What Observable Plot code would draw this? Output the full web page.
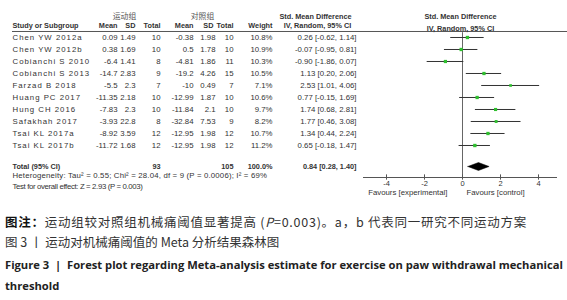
<!DOCTYPE html>
<html><head><meta charset="utf-8">
<script src="https://cdn.jsdelivr.net/npm/d3@7"></script>
<script src="https://cdn.jsdelivr.net/npm/@observablehq/plot@0.6"></script>
<style>
body{margin:0;background:#fff;width:567px;height:300px;overflow:hidden;position:relative;font-family:"Liberation Sans",Arial,sans-serif}
#chart svg{display:block}
.cap{position:absolute;left:5px;white-space:nowrap;font-family:"Noto Sans CJK SC","Noto Sans",sans-serif;color:#333}
</style></head><body>
<div id="chart"></div>
<div class="cap" id="c1" style="top:212px;font-size:12.5px;line-height:20px;letter-spacing:0.75px"><b style="color:#111">图注：</b>运动组较对照组机械痛阈值显著提高 (<i>P</i>=0.003)。a，b 代表同一研究不同运动方案</div>
<div class="cap" id="c2" style="top:232px;font-size:12.5px;line-height:20px">图 3 丨 运动对机械痛阈值的 Meta 分析结果森林图</div>
<div class="cap" id="c3" style="top:255px;font-size:11.2px;line-height:20px;font-weight:bold;color:#222;font-family:'Open Sans',sans-serif">Figure 3 &nbsp;|&nbsp; Forest plot regarding Meta-analysis estimate for exercise on paw withdrawal mechanical</div>
<div class="cap" id="c4" style="top:276px;font-size:11.2px;line-height:20px;font-weight:bold;color:#222;font-family:'Open Sans',sans-serif">threshold</div>
<script>
const studies = ["Chen YW 2012a","Chen YW 2012b","Cobianchi S 2010","Cobianchi S 2013","Farzad B 2018","Huang PC 2017","Hung CH 2016","Safakhah 2017","Tsai KL 2017a","Tsai KL 2017b"];
const expMean = [0.09,0.38,-6.4,-14.7,-5.5,-11.35,-7.83,-3.93,-8.92,-11.72];
const expSD   = [1.49,1.69,1.41,2.83,2.3,2.18,2.3,22.8,3.59,1.68];
const expN    = [10,10,8,9,7,10,10,8,12,12];
const ctlMean = [-0.38,0.5,-4.81,-19.2,-10,-12.99,-11.84,-32.84,-12.95,-12.95];
const ctlSD   = [1.98,1.78,1.86,4.26,0.49,1.87,2.1,7.53,1.98,1.98];
const ctlN    = [10,10,11,15,7,10,10,9,12,12];
const weight  = [10.8,10.9,10.3,10.5,7.1,10.6,9.7,8.2,10.7,11.2];
const smd     = [0.26,-0.07,-0.90,1.13,2.53,0.77,1.74,1.77,1.34,0.65];
const ciLo    = [-0.62,-0.95,-1.86,0.20,1.01,-0.15,0.68,0.46,0.44,-0.18];
const ciHi    = [1.14,0.81,0.07,2.06,4.06,1.69,2.81,3.08,2.24,1.47];
const total = {label:"Total (95% CI)", expN:93, ctlN:105, weight:100.0, smd:0.84, lo:0.28, hi:1.40};
const groupLabels = ["运动组","对照组"];
const headerLabels = ["Study or Subgroup","Mean","SD","Total","Mean","SD","Total","Weight","IV, Random, 95% CI"];
const ticks = [-4,-2,0,2,4];
const favours = ["Favours [experimental]","Favours [control]"];
const hetText = "Heterogeneity: Tau² = 0.55; Chi² = 28.04, df = 9 (P = 0.0006); I² = 69%";
const testText = "Test for overall effect: Z = 2.93 (P = 0.003)";

const rows = studies.map((s,i)=>({row:i+1, study:s, em:expMean[i], es:expSD[i], en:expN[i], cm:ctlMean[i], cs:ctlSD[i], cn:ctlN[i], w:weight[i], smd:smd[i], lo:ciLo[i], hi:ciHi[i]}));
const f2 = v => v.toFixed(2);
const ciStr = d => `${f2(d.smd)} [${f2(d.lo)}, ${f2(d.hi)}]`;

const W=567, H=205, ML=363, MR=10, MT=13, MB=28;
const X0=462, PXU=19;
const px2x = p => (p-X0)/PXU;
const totalRow = 11.75;
const yBottom = 12.667;
const FS = 7.8, HFS = 7.3, TXT="#333";

function col(data, text, px, anchor, extra={}) {
  return Plot.text(data, {y:"row", text, frameAnchor:"left", dx:px-ML, textAnchor:anchor, fontSize:FS, fill:TXT, ...extra});
}
const headerPx = [12,117,135,160,193,213,233,272,317];
const headerAnchor = ["start","end","end","end","end","end","end","end","middle"];
const headers = headerLabels.map((t,i)=>({t, row:0, px:headerPx[i], a:headerAnchor[i]}));
const totRow = [{...total, row:totalRow}];

const diamond = [
  {x:total.lo, y:totalRow},{x:total.smd, y:totalRow-0.33},{x:total.hi, y:totalRow},{x:total.smd, y:totalRow+0.33},{x:total.lo, y:totalRow}
];

const marks = [
  Plot.ruleY([0.5], {x1:px2x(12), x2:px2x(567), stroke:"#555", strokeWidth:1}),
  Plot.ruleX([0], {y1:0.6, y2:yBottom, stroke:"#666", strokeWidth:1}),
  Plot.ruleY([yBottom], {stroke:"#555"}),
  Plot.ruleX(ticks, {y1:yBottom-0.22, y2:yBottom+0.22, stroke:"#555"}),
  Plot.axisX(ticks, {tickSize:0, tickPadding:3, fontSize:7.5, fill:TXT, tickFormat:d=>String(d)}),
  Plot.text([favours[0]], {x:[0], frameAnchor:"bottom", dy:17.5, dx:-15, textAnchor:"end", fontSize:FS, fill:TXT}),
  Plot.text([favours[1]], {x:[0], frameAnchor:"bottom", dy:17.5, dx:4, textAnchor:"start", fontSize:FS, fill:TXT}),
  Plot.ruleY(rows, {y:"row", x1:"lo", x2:"hi", stroke:"#333", strokeWidth:1}),
  Plot.dot(rows, {x:"smd", y:"row", r:"w", symbol:"square", fill:"#2fc02f", stroke:null}),
  Plot.line(diamond, {x:"x", y:"y", fill:"#000", stroke:"#000", strokeWidth:0.5}),
  Plot.text(["Std. Mean Difference"], {frameAnchor:"top", dy:0, fontSize:HFS, fontWeight:"bold", fill:TXT}),
  Plot.text(["IV, Random, 95% CI"], {frameAnchor:"top", dy:12, fontSize:HFS, fontWeight:"bold", fill:TXT}),
  Plot.text(["Std. Mean Difference"], {frameAnchor:"top-left", dx:315-ML, dy:0, textAnchor:"middle", fontSize:HFS, fontWeight:"bold", fill:TXT}),
  Plot.text([groupLabels[0]], {frameAnchor:"top-left", dx:124-ML, textAnchor:"middle", fontSize:FS, fill:"#555", fontFamily:"Noto Sans CJK SC"}),
  Plot.text([groupLabels[1]], {frameAnchor:"top-left", dx:202-ML, textAnchor:"middle", fontSize:FS, fill:"#555", fontFamily:"Noto Sans CJK SC"})
];
headers.forEach(h => marks.push(Plot.text([h], {y:"row", text:"t", frameAnchor:"left", dx:h.px-ML, textAnchor:h.a, fontSize:HFS, fontWeight:"bold", fill:TXT})));
marks.push(
  col(rows, "study", 12, "start"),
  col(rows, d=>String(d.em), 117, "end"),
  col(rows, d=>String(d.es), 135, "end"),
  col(rows, d=>String(d.en), 160, "end"),
  col(rows, d=>String(d.cm), 193, "end"),
  col(rows, d=>String(d.cs), 215, "end"),
  col(rows, d=>String(d.cn), 233, "end"),
  col(rows, d=>d.w.toFixed(1)+"%", 272, "end"),
  col(rows, ciStr, 356, "end"),
  col(totRow, "label", 12, "start", {fontWeight:"bold", fontSize:HFS}),
  col(totRow, d=>String(d.expN), 160, "end", {fontWeight:"bold", fontSize:HFS}),
  col(totRow, d=>String(d.ctlN), 233, "end", {fontWeight:"bold", fontSize:HFS}),
  col(totRow, d=>d.weight.toFixed(1)+"%", 272, "end", {fontWeight:"bold", fontSize:HFS}),
  col(totRow, ciStr, 356, "end", {fontWeight:"bold", fontSize:HFS}),
  Plot.text([hetText], {frameAnchor:"bottom-left", dx:12-ML, dy:0, textAnchor:"start", fontSize:FS, fill:TXT}),
  Plot.text([testText], {frameAnchor:"bottom-left", dx:12-ML, dy:11, textAnchor:"start", fontSize:FS, fill:TXT})
);

const chart = Plot.plot({
  width:W, height:H, marginLeft:ML, marginRight:MR, marginTop:MT, marginBottom:MB,
  style:{fontFamily:"'Liberation Sans', Arial, sans-serif", background:"#fff", overflow:"visible"},
  x:{domain:[px2x(ML), px2x(W-MR)], axis:null},
  y:{domain:[-1, yBottom], reverse:true, axis:null},
  r:{domain:[0,11.2], range:[0,1.9]},
  marks
});
const sp = {};
studies.forEach(s => sp[s] = 1);
sp[hetText] = 0.18; sp[testText] = -0.35;
d3.select(chart).selectAll("text").each(function(){
  const t = this.textContent;
  if (sp[t] !== undefined) this.setAttribute("letter-spacing", sp[t]);
});
document.getElementById("chart").appendChild(chart);
</script>
</body></html>
